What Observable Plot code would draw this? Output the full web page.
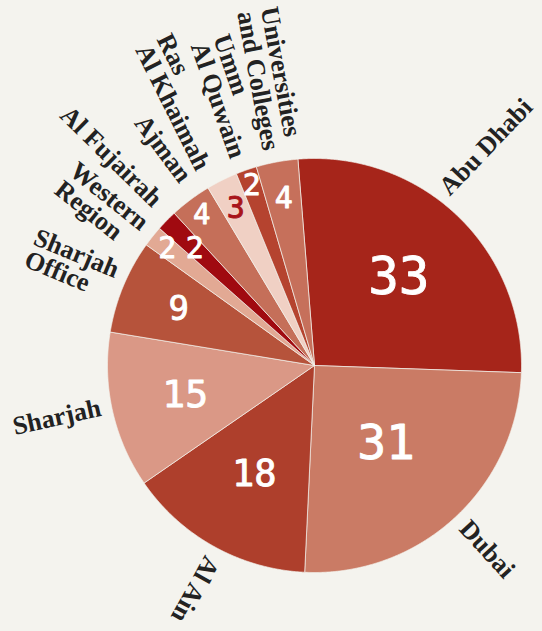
<!DOCTYPE html>
<html>
<head>
<meta charset="utf-8">
<script src="https://cdn.jsdelivr.net/npm/d3@7"></script>
<script src="https://cdn.jsdelivr.net/npm/@observablehq/plot@0.6"></script>
<style>
  html, body { margin: 0; padding: 0; background: #f4f3ee; }
  #chart svg { display: block; background: #f4f3ee; }
</style>
</head>
<body>
<div id="chart"></div>
<script>
// ---- data ----
const names = ["Abu Dhabi", "Dubai", "Al Ain", "Sharjah", "Sharjah Office", "Western Region",
  "Al Fujairah", "Ajman", "Ras Al Khaimah", "Umm Al Quwain", "Universities and Colleges"];
const values = [33, 31, 18, 15, 9, 2, 2, 4, 3, 2, 4];
const labelText = ["Abu Dhabi", "Dubai", "Al Ain", "Sharjah", "Sharjah\nOffice", "Western\nRegion",
  "Al Fujairah", "Ajman", "Ras\nAl Khaimah", "Umm\nAl Quwain", "Universities\nand Colleges"];
const colors = ["#a6251a", "#ca7b65", "#ae3f2c", "#da9886", "#b6533b", "#e2a994",
  "#a00a10", "#c56f59", "#f0d0c4", "#b5432f", "#c6705b"];

// ---- layout (not data) ----
const W = 542, H = 631;
const cx = 314, cy = 365, R = 207;
const startDeg = -4.6;
const labelOffset = 11;
const labelRadialNudge = [-1, 0, 0, 0, 0, 2, 8, 8, 8, 4, 2];
const labelAngleNudge = [-7, -0.5, -1, 1, 0, -1.5, 1, 1.5, 0, 1.3, 1.2];
const numberRadius = [0.59, 0.51, 0.60, 0.64, 0.71, 0.91, 0.81, 0.91, 0.85, 0.92, 0.82];
const numberSize = [51, 48, 37, 38, 34, 30, 30, 29, 30, 30, 30];
const numberFill = ["white", "white", "white", "white", "white", "white", "white", "white", "#a8141a", "white", "white"];
const labelFont = "bold 26px 'Liberation Serif'";

const arcs = d3.pie().sort(null).value(d => d)
  .startAngle(startDeg * Math.PI / 180)
  .endAngle(startDeg * Math.PI / 180 + 2 * Math.PI)(values);

const ctx = document.createElement("canvas").getContext("2d");
ctx.font = labelFont;

const slices = names.map((name, i) => {
  const a = arcs[i];
  const mid = (a.startAngle + a.endAngle) / 2;
  const midDeg = mid * 180 / Math.PI;
  const lines = labelText[i].split("\n");
  const w = d3.max(lines, l => ctx.measureText(l).width);
  const right = midDeg < 240;
  const base = R + labelOffset + labelRadialNudge[i];
  const lr = right ? base : base + w;
  const la = mid + labelAngleNudge[i] * Math.PI / 180;
  return {
    name, value: values[i], label: labelText[i],
    x0: a.startAngle, x1: a.endAngle, mid,
    nx: numberRadius[i] * R * Math.sin(mid),
    ny: -numberRadius[i] * R * Math.cos(mid),
    size: numberSize[i], nfill: numberFill[i],
    lx: lr * Math.sin(la), ly: -lr * Math.cos(la),
    rot: right ? midDeg - 90 : midDeg - 270
  };
});

// polygon outline points for each slice
const pts = [];
for (const s of slices) {
  pts.push({name: s.name, x: 0, y: 0});
  const n = Math.max(2, Math.ceil((s.x1 - s.x0) / 0.004));
  for (let k = 0; k <= n; k++) {
    const t = s.x0 + (s.x1 - s.x0) * k / n;
    pts.push({name: s.name, x: R * Math.sin(t), y: -R * Math.cos(t)});
  }
  pts.push({name: s.name, x: 0, y: 0});
}

const chart = Plot.plot({
  width: W, height: H,
  margin: 0,
  style: {background: "#f4f3ee"},
  x: {domain: [-cx, W - cx], range: [0, W], axis: null},
  y: {domain: [-cy, H - cy], range: [0, H], axis: null},
  color: {domain: names, range: colors},
  marks: [
    Plot.line(pts, {x: "x", y: "y", z: "name", fill: "name", stroke: "#f4f3ee", strokeWidth: 0.7, strokeLinejoin: "round"}),
    Plot.text(slices.filter(d => d.nfill === "white"), {
      x: "nx", y: "ny", text: d => String(d.value), fontSize: "size",
      fill: "white", stroke: "white", strokeWidth: 0.9,
      fontFamily: "DejaVu Sans Mono", textAnchor: "middle"
    }),
    Plot.text(slices.filter(d => d.nfill !== "white"), {
      x: "nx", y: "ny", text: d => String(d.value), fontSize: "size",
      fill: "#a8141a", stroke: "#a8141a", strokeWidth: 0.9,
      fontFamily: "DejaVu Sans Mono", textAnchor: "middle"
    }),
    Plot.text(slices, {
      x: "lx", y: "ly", text: "label", rotate: "rot",
      fontSize: 26, fontWeight: "bold", fontFamily: "Liberation Serif",
      fill: "#222", textAnchor: "start", lineAnchor: "middle", lineHeight: 0.92
    })
  ]
});
document.getElementById("chart").appendChild(chart);
</script>
</body>
</html>
